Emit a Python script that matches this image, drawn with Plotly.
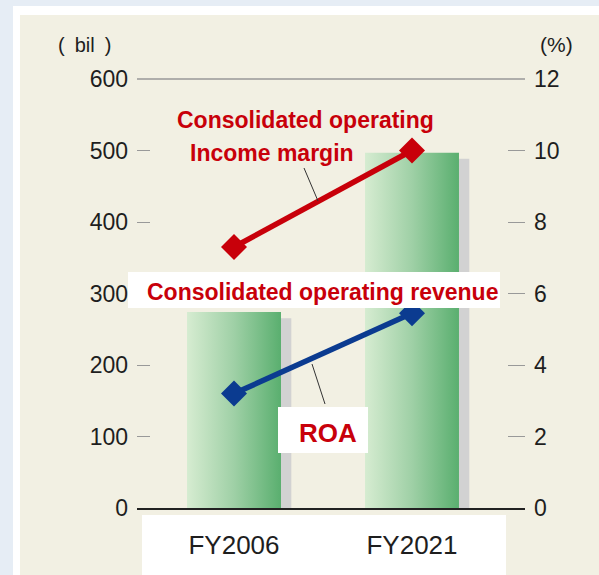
import plotly.graph_objects as go

# ---------------- data ----------------
categories = ["FY2006", "FY2021"]
revenue_bil = [274, 497]          # Consolidated operating revenue (bil) - left axis
income_margin_pct = [7.3, 10.0]   # Consolidated operating income margin (%) - right axis
roa_pct = [3.2, 5.45]             # ROA (%) - right axis
left_ticks = [0, 100, 200, 300, 400, 500, 600]
right_ticks = [0, 2, 4, 6, 8, 10, 12]

# ---------------- helpers / style ----------------
W, H = 599, 575
def px(x):
    return x / W
def py(y):
    return 1 - y / H

FONT = "Liberation Sans, Arial, sans-serif"
RED = "#c8000a"
BLUE = "#0b3b90"
TXT = "#1e1e1e"
x_pos = list(range(len(categories)))
BAR_W = 0.528
SHADOW_DX = 0.058
SHADOW_DY = 8.5

fig = go.Figure()

# shadow bars
fig.add_trace(go.Bar(
    x=x_pos, y=[v - SHADOW_DY for v in revenue_bil],
    width=BAR_W, offset=-BAR_W / 2 + SHADOW_DX,
    marker=dict(color="#d2d2d2", line=dict(width=0)),
    hoverinfo="skip", showlegend=False,
))

# gradient bars
for c, v in zip(x_pos, revenue_bil):
    l, r = c - BAR_W / 2, c + BAR_W / 2
    fig.add_trace(go.Scatter(
        x=[l, r, r, l, l], y=[0, 0, v, v, 0],
        mode="lines", fill="toself",
        fillgradient=dict(type="horizontal",
                          colorscale=[[0, "#d6ecd1"], [0.5, "#9fd0a6"], [1, "#5aaf6f"]]),
        line=dict(width=0), hoverinfo="skip", showlegend=False,
    ))

# lines
fig.add_trace(go.Scatter(
    x=x_pos, y=income_margin_pct, yaxis="y2", mode="lines+markers",
    line=dict(color=RED, width=5.5),
    marker=dict(symbol="diamond", size=20, color=RED),
    showlegend=False,
))
fig.add_trace(go.Scatter(
    x=x_pos, y=roa_pct, yaxis="y2", mode="lines+markers",
    line=dict(color=BLUE, width=5.5),
    marker=dict(symbol="diamond", size=20, color=BLUE),
    showlegend=False,
))

shapes = [
    # outer white frame and beige panel
    dict(type="rect", xref="paper", yref="paper", x0=px(13), x1=1.01, y0=-0.01, y1=py(6),
         fillcolor="#ffffff", line=dict(width=0), layer="below"),
    dict(type="rect", xref="paper", yref="paper", x0=px(20), x1=1.01, y0=-0.01, y1=py(15),
         fillcolor="#f2f0e3", line=dict(width=0), layer="below"),
    # white box behind category labels
    dict(type="rect", xref="paper", yref="paper", x0=px(142), x1=px(506), y0=py(576), y1=py(515),
         fillcolor="#ffffff", line=dict(width=0), layer="below"),
    # top border line
    dict(type="line", xref="x domain", yref="y domain", x0=0, x1=1, y0=1, y1=1,
         line=dict(color="#999999", width=1.5), layer="above"),
    # label boxes
    dict(type="rect", xref="paper", yref="paper", x0=px(128), x1=px(500), y0=py(308), y1=py(272),
         fillcolor="#ffffff", line=dict(width=0), layer="above"),
    dict(type="rect", xref="paper", yref="paper", x0=px(278), x1=px(368), y0=py(453), y1=py(407),
         fillcolor="#ffffff", line=dict(width=0), layer="above"),
    # leader lines
    dict(type="line", xref="paper", yref="paper", x0=px(304), x1=px(318), y0=py(168), y1=py(201),
         line=dict(color="#333333", width=1), layer="above"),
    dict(type="line", xref="paper", yref="paper", x0=px(312), x1=px(325), y0=py(364), y1=py(404),
         line=dict(color="#333333", width=1), layer="above"),
]

def ann(text, x, y, size, color, bold=False):
    return dict(text=text, xref="paper", yref="paper", x=px(x), y=py(y),
                xanchor="center", yanchor="middle", showarrow=False,
                font=dict(family=FONT, size=size, color=color,
                          weight="bold" if bold else "normal"))

annotations = [
    ann("Consolidated operating", 305, 120, 23, RED, True),
    ann("Income margin", 272, 153, 23, RED, True),
    ann("Consolidated operating revenue", 322, 292, 23, RED, True),
    ann("ROA", 328, 433, 26, RED, True),
    ann("(\u2002bil\u2002)", 84, 45, 20, TXT),
    ann("(%)", 556, 45, 21, TXT),
]

fig.update_layout(
    width=W, height=H,
    margin=dict(l=0, r=0, t=0, b=0, autoexpand=False),
    paper_bgcolor="#e6edf5",
    plot_bgcolor="#ffffff",
    font=dict(family=FONT, color=TXT),
    showlegend=False,
    shapes=shapes,
    annotations=annotations,
    xaxis=dict(
        domain=[px(137), px(525)], range=[-0.545, 1.635],
        tickvals=x_pos, ticktext=categories, ticks="",
        ticklabelstandoff=13, tickfont=dict(size=26, color=TXT),
        showline=True, linecolor="#222222", linewidth=2,
        showgrid=False, zeroline=False, fixedrange=True, automargin=False,
    ),
    yaxis=dict(
        domain=[py(508), py(79)], range=[0, 600],
        tickvals=left_ticks, ticks="inside", ticklen=13, tickcolor="#999999", tickwidth=1,
        ticklabelstandoff=8, tickfont=dict(size=23, color=TXT),
        showgrid=False, zeroline=False, showline=False, fixedrange=True, automargin=False,
    ),
    yaxis2=dict(
        overlaying="y", side="right", anchor="x", range=[0, 12],
        tickvals=right_ticks, ticks="inside", ticklen=17, tickcolor="#999999", tickwidth=1,
        ticklabelstandoff=8, tickfont=dict(size=23, color=TXT),
        showgrid=False, zeroline=False, showline=False, fixedrange=True, automargin=False,
    ),
)

fig.write_html(
    "out.html",
    config={"displayModeBar": False},
    post_script="document.body.style.margin='0';document.body.style.overflow='hidden';",
)
